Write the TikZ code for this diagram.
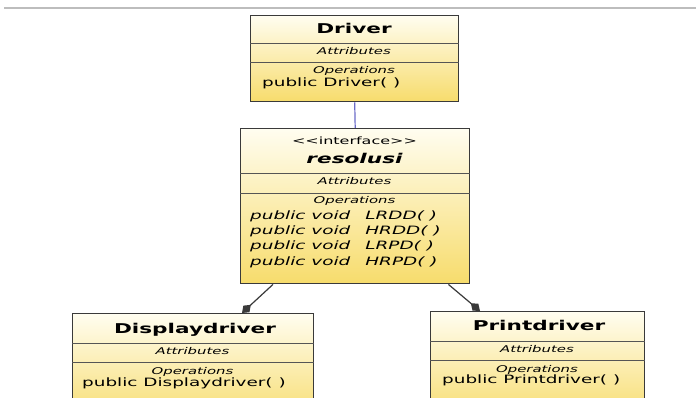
\documentclass[tikz,border=0pt]{standalone}
\usepackage{fontspec}
\setmainfont{DejaVu Sans}[FakeStretch=1.6]
\usetikzlibrary{arrows.meta}

\definecolor{boxline}{HTML}{3A3A3A}
\definecolor{sepline}{HTML}{555555}
\definecolor{cream}{HTML}{FFFDF0}
\definecolor{gold}{HTML}{F7DC6C}
\definecolor{linkblue}{HTML}{6A6AC8}
\definecolor{rulegray}{HTML}{BDBDBD}

\tikzset{
  umlbox/.style={draw=boxline, line width=1.4pt, rectangle, anchor=north west,
    inner sep=0pt, top color=cream, bottom color=gold},
  sep/.style={draw=sepline, line width=0.8pt},
  ttl/.style={font=\fontsize{13.5}{15}\selectfont\bfseries, anchor=base, inner sep=0pt},
  ittl/.style={font=\fontsize{13.5}{15}\selectfont\bfseries\itshape, anchor=base, inner sep=0pt},
  stereo/.style={font=\fontsize{10}{12}\selectfont, anchor=base, inner sep=0pt},
  sect/.style={font=\fontsize{9.3}{11}\selectfont\itshape, anchor=base, inner sep=0pt},
  meth/.style={font=\fontsize{11.5}{13}\selectfont, anchor=base west, inner sep=0pt},
  imeth/.style={font=\fontsize{11.5}{13}\selectfont\itshape, anchor=base west, inner sep=0pt},
  assoc/.style={draw=linkblue, line width=1.2pt},
  impl/.style={draw=boxline, line width=1.2pt, -{Diamond[length=12pt,width=9pt]}},
}

\begin{document}
\begin{tikzpicture}[x=1pt,y=-1pt]
\clip (0,0) rectangle (696,398);
\fill[white] (0,0) rectangle (696,398);

% header rule
\draw[rulegray, line width=1.3pt] (4,8) -- (696,8);

% ---- Driver ----
\node[umlbox, minimum width=208pt, minimum height=86pt] (driver) at (250,15) {};
\draw[sep] ([yshift=-28pt]driver.north west) -- ([yshift=-28pt]driver.north east);
\draw[sep] ([yshift=-47pt]driver.north west) -- ([yshift=-47pt]driver.north east);
\node[ttl]  (driverT) at (354,33.5) {Driver};
\node[sect] (driverA) at (354,55) {Attributes};
\node[sect] (driverO) at (354,74) {Operations};
\node[meth] (driverM) at (262,87) {public Driver(\hspace{6pt})};

% ---- resolusi ----
\node[umlbox, minimum width=229pt, minimum height=155pt] (resolusi) at (240,128) {};
\draw[sep] ([yshift=-45pt]resolusi.north west) -- ([yshift=-45pt]resolusi.north east);
\draw[sep] ([yshift=-65pt]resolusi.north west) -- ([yshift=-65pt]resolusi.north east);
\node[stereo] (resS) at (354.5,145) {{<}{<}interface{>}{>}};
\node[ittl]   (resT) at (354.5,164) {resolusi};
\node[sect]   (resA) at (354.5,185) {Attributes};
\node[sect]   (resO) at (354.5,204) {Operations};
\node[imeth]  (resM1) at (250,219) {public void\hspace{15pt}LRDD(\hspace{6pt})};
\node[imeth]  (resM2) at (250,234.5) {public void\hspace{15pt}HRDD(\hspace{6pt})};
\node[imeth]  (resM3) at (250,250) {public void\hspace{15pt}LRPD(\hspace{6pt})};
\node[imeth]  (resM4) at (250,265.5) {public void\hspace{15pt}HRPD(\hspace{6pt})};

% ---- Displaydriver ----
\node[umlbox, minimum width=241pt, minimum height=110pt] (disp) at (72,313) {};
\draw[sep] ([yshift=-30pt]disp.north west) -- ([yshift=-30pt]disp.north east);
\draw[sep] ([yshift=-49pt]disp.north west) -- ([yshift=-49pt]disp.north east);
\node[ttl]  (dispT) at (195,333) {Displaydriver};
\node[sect] (dispA) at (192.5,354) {Attributes};
\node[sect] (dispO) at (192.5,374) {Operations};
\node[meth] (dispM) at (82,386) {public Displaydriver(\hspace{6pt})};

% ---- Printdriver ----
\node[umlbox, minimum width=214pt, minimum height=110pt] (print) at (430,311) {};
\draw[sep] ([yshift=-30pt]print.north west) -- ([yshift=-30pt]print.north east);
\draw[sep] ([yshift=-49pt]print.north west) -- ([yshift=-49pt]print.north east);
\node[ttl]  (printT) at (539,330) {Printdriver};
\node[sect] (printA) at (537,352) {Attributes};
\node[sect] (printO) at (537,372) {Operations};
\node[meth] (printM) at (442,383) {public Printdriver(\hspace{6pt})};

% ---- connectors ----
\draw[assoc] (driver.south) -- (resolusi.north);
\draw[impl] ([xshift=33pt]resolusi.south west) -- ([xshift=170pt]disp.north west);
\draw[impl] ([xshift=-22pt]resolusi.south east) -- ([xshift=50pt]print.north west);
\end{tikzpicture}
\end{document}
